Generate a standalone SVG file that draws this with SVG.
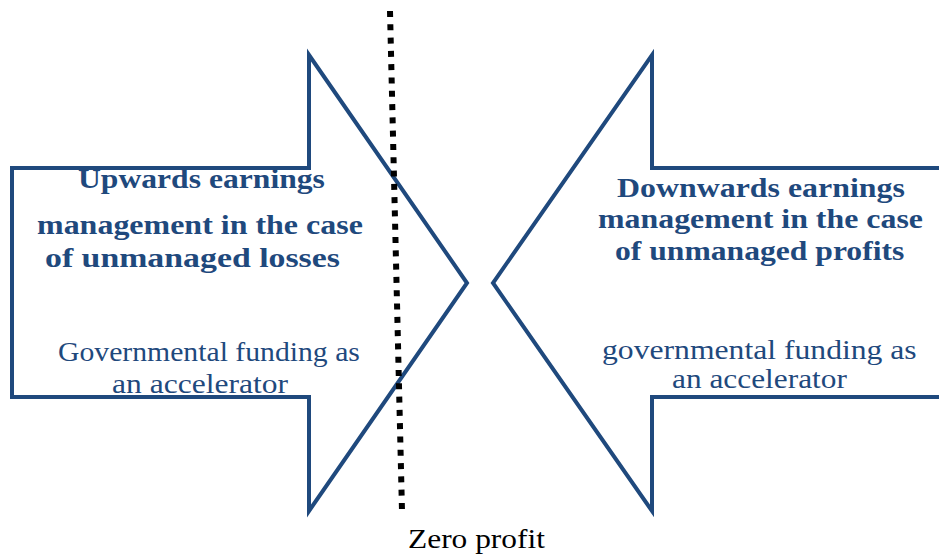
<svg xmlns="http://www.w3.org/2000/svg" width="939" height="560" viewBox="0 0 939 560">
  <style>
    .arrow { fill: none; stroke: #1F497D; stroke-width: 4; stroke-linejoin: miter; stroke-miterlimit: 10; }
    .head { font-family: "Liberation Serif", "Times New Roman", serif; font-weight: bold; font-size: 28px; fill: #1F497D; }
    .sub { font-family: "Liberation Serif", "Times New Roman", serif; font-size: 28px; fill: #1F497D; }
    .axis { stroke: #000000; stroke-width: 6; stroke-dasharray: 6 7.3; fill: none; }
    .axis-label { font-family: "Liberation Serif", "Times New Roman", serif; font-size: 27px; fill: #000000; }
  </style>
  <rect width="939" height="560" fill="#ffffff"/>

  <!-- Left block arrow: upward earnings management -->
  <g id="upwards">
    <path class="arrow" d="M12,168 L309,168 L309,55 L467,283 L309,511 L309,397 L12,397 Z"/>
    <text class="head" transform="translate(78 188) scale(1.130 1)">Upwards earnings</text>
    <text class="head" transform="translate(37 234) scale(1.142 1)">management in the case</text>
    <text class="head" transform="translate(45 267) scale(1.208 1)">of unmanaged losses</text>
    <text class="sub" transform="translate(58 361) scale(1.061 1)">Governmental funding as</text>
    <text class="sub" transform="translate(112 393) scale(1.127 1)">an accelerator</text>
  </g>

  <!-- Right block arrow: downward earnings management -->
  <g id="downwards">
    <path class="arrow" d="M945,168 L652,168 L652,55 L493,283 L652,511 L652,397 L945,397"/>
    <text class="head" transform="translate(617 197) scale(1.139 1)">Downwards earnings</text>
    <text class="head" transform="translate(598 228) scale(1.139 1)">management in the case</text>
    <text class="head" transform="translate(615 260) scale(1.130 1)">of unmanaged profits</text>
    <text class="sub" transform="translate(602 359) scale(1.131 1)">governmental funding as</text>
    <text class="sub" transform="translate(672 388) scale(1.120 1)">an accelerator</text>
  </g>

  <!-- Zero-profit threshold -->
  <g id="connectors">
    <line class="axis" x1="390" y1="11" x2="402" y2="511"/>
  </g>
  <g id="zero-profit">
    <text class="axis-label" transform="translate(408 548) scale(1.164 1)">Zero profit</text>
  </g>
</svg>
